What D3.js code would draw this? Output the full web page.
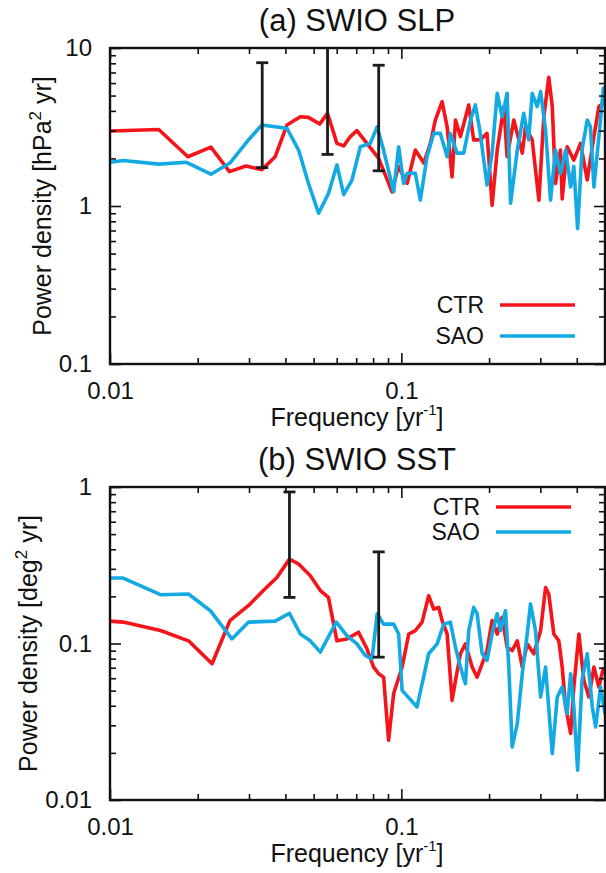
<!DOCTYPE html>
<html>
<head>
<meta charset="utf-8">
<script src="https://cdn.jsdelivr.net/npm/d3@7"></script>
<style>
body { margin: 0; background: #fff; }
text { font-family: "Liberation Sans", Arial, sans-serif; fill: #111; }
</style>
</head>
<body>
<div id="chart"></div>
<script>
// ---- data ----
const freqTicks = [0.01, 0.1];
const freqMinor = [0.02, 0.03, 0.04, 0.05, 0.06, 0.07, 0.08, 0.09, 0.2, 0.3, 0.4];
const slpTicks = [0.1, 1, 10];
const sstTicks = [0.01, 0.1, 1];

// (a) SLP, CTR
const slpCtrFreq = [0.0100, 0.0147, 0.0185, 0.0222, 0.0257, 0.0293, 0.0332, 0.0369, 0.0405, 0.0450,
  0.0480, 0.0524, 0.0558, 0.0601, 0.0634, 0.0668, 0.0704, 0.0836, 0.0929, 0.0977,
  0.1047, 0.1117, 0.1194, 0.1258, 0.1308, 0.1380, 0.1436, 0.1493, 0.1534, 0.1595,
  0.1703, 0.1771, 0.1866, 0.1968, 0.2049, 0.2133, 0.2249, 0.2307, 0.2432, 0.2600,
  0.2667, 0.2812, 0.2965, 0.3083, 0.3206, 0.3296, 0.3381, 0.3516, 0.3565, 0.3707,
  0.3908, 0.4121, 0.4345, 0.4581, 0.4764, 0.4943];
const slpCtr = [2.98, 3.05, 2.05, 2.36, 1.65, 1.79, 1.70, 2.05, 3.26, 3.67,
  3.64, 3.30, 3.86, 2.49, 2.40, 2.75, 3.00, 2.00, 1.23, 1.78,
  1.39, 2.26, 1.87, 2.49, 3.50, 4.57, 3.17, 1.53, 3.50, 2.75,
  4.36, 2.62, 2.62, 2.88, 1.01, 2.26, 4.26, 2.05, 3.50, 2.16,
  3.17, 2.62, 1.09, 3.67, 6.53, 4.26, 1.39, 2.26, 1.11, 2.37,
  1.95, 2.49, 1.46, 2.75, 4.26, 4.47];

// (a) SLP, SAO
const slpSaoFreq = [0.0100, 0.0111, 0.0147, 0.0183, 0.0222, 0.0258, 0.0295, 0.0332, 0.0369, 0.0405,
  0.0444, 0.0480, 0.0520, 0.0562, 0.0601, 0.0634, 0.0677, 0.0723, 0.0782, 0.0826,
  0.0869, 0.0941, 0.0979, 0.1018, 0.1047, 0.1117, 0.1162, 0.1225, 0.1291, 0.1361,
  0.1436, 0.1473, 0.1553, 0.1637, 0.1726, 0.1795, 0.1866, 0.1968, 0.2049, 0.2133,
  0.2218, 0.2307, 0.2371, 0.2500, 0.2630, 0.2735, 0.2812, 0.2924, 0.3006, 0.3126,
  0.3251, 0.3381, 0.3516, 0.3664, 0.3811, 0.3908, 0.4027, 0.4169, 0.4345, 0.4457,
  0.4581, 0.4764, 0.4943];
const slpSao = [1.89, 1.94, 1.84, 1.89, 1.59, 1.87, 2.55, 3.26, 3.17, 3.10,
  2.26, 1.39, 0.90, 1.20, 1.82, 1.18, 1.46, 2.37, 2.49, 3.17,
  2.26, 1.23, 2.37, 1.39, 1.61, 1.61, 1.09, 2.05, 2.88, 2.88,
  2.05, 2.88, 2.16, 2.16, 3.50, 4.36, 2.88, 1.36, 2.16, 5.17,
  3.67, 5.17, 1.04, 2.26, 3.86, 2.62, 5.17, 4.26, 5.30, 3.03,
  1.09, 2.26, 1.61, 2.26, 1.32, 1.78, 0.72, 2.26, 3.50, 3.17,
  1.32, 2.75, 5.69];

// (b) SST, CTR
const sstCtrFreq = [0.0100, 0.0111, 0.0149, 0.0186, 0.0224, 0.0258, 0.0299, 0.0336, 0.0374, 0.0413,
  0.0444, 0.0487, 0.0527, 0.0562, 0.0601, 0.0651, 0.0713, 0.0762, 0.0803, 0.0836,
  0.0869, 0.0904, 0.0941, 0.1006, 0.1060, 0.1117, 0.1178, 0.1241, 0.1291, 0.1344,
  0.1380, 0.1436, 0.1493, 0.1534, 0.1595, 0.1659, 0.1750, 0.1820, 0.1894, 0.1968,
  0.2049, 0.2133, 0.2218, 0.2307, 0.2401, 0.2500, 0.2600, 0.2704, 0.2849, 0.3006,
  0.3126, 0.3206, 0.3337, 0.3471, 0.3565, 0.3664, 0.3811, 0.3908, 0.4068, 0.4232,
  0.4402, 0.4581, 0.4764, 0.4943];
const sstCtr = [0.139, 0.137, 0.121, 0.104, 0.0743, 0.140, 0.175, 0.218, 0.264, 0.346,
  0.322, 0.271, 0.218, 0.197, 0.104, 0.107, 0.118, 0.0925, 0.0707, 0.0641,
  0.0609, 0.0241, 0.0479, 0.0707, 0.115, 0.121, 0.137, 0.202, 0.166, 0.170,
  0.140, 0.115, 0.0433, 0.058, 0.086, 0.0994, 0.0707, 0.0609, 0.0743, 0.0902,
  0.140, 0.115, 0.147, 0.0946, 0.0902, 0.104, 0.0707, 0.0994, 0.086, 0.121,
  0.228, 0.207, 0.115, 0.104, 0.0707, 0.0393, 0.0266, 0.0527, 0.115, 0.058,
  0.0455, 0.0707, 0.0527, 0.0707];

// (b) SST, SAO
const sstSaoFreq = [0.0100, 0.0111, 0.0149, 0.0186, 0.0221, 0.0262, 0.0299, 0.0369, 0.0413, 0.0450,
  0.0487, 0.0527, 0.0598, 0.0651, 0.0704, 0.0752, 0.0793, 0.0826, 0.0869, 0.0941,
  0.0979, 0.1006, 0.1132, 0.1241, 0.1327, 0.1398, 0.1473, 0.1534, 0.1595, 0.1659,
  0.1703, 0.1771, 0.1820, 0.1894, 0.1968, 0.2049, 0.2133, 0.2189, 0.2278, 0.2338,
  0.2401, 0.2500, 0.2600, 0.2704, 0.2775, 0.2887, 0.3006, 0.3126, 0.3296, 0.3428,
  0.3565, 0.3707, 0.3811, 0.3908, 0.4027, 0.4169, 0.4345, 0.4522, 0.4642, 0.4829,
  0.5000];
const sstSao = [0.262, 0.262, 0.205, 0.207, 0.162, 0.107, 0.137, 0.139, 0.156, 0.115,
  0.104, 0.0881, 0.137, 0.112, 0.0994, 0.0839, 0.0797, 0.155, 0.133, 0.133,
  0.115, 0.0502, 0.0393, 0.086, 0.0994, 0.133, 0.137, 0.0946, 0.0707, 0.0554,
  0.121, 0.170, 0.155, 0.086, 0.078, 0.115, 0.155, 0.121, 0.162, 0.0707,
  0.0218, 0.0308, 0.0641, 0.115, 0.179, 0.121, 0.0455, 0.0707, 0.0198, 0.0455,
  0.0527, 0.0356, 0.0641, 0.0393, 0.0155, 0.058, 0.086, 0.0393, 0.0293, 0.0527,
  0.0356];

// error bars
const slpErrFreq = [0.0333, 0.0558, 0.0836];
const slpErrLow = [1.75, 2.12, 1.67];
const slpErrHigh = [8.07, 10.6, 7.78];
const sstErrFreq = [0.0413, 0.0836];
const sstErrLow = [0.197, 0.0818];
const sstErrHigh = [0.93, 0.385];

const seriesNames = ["CTR", "SAO"];
const colors = ["#f5141a", "#13aae4"];

// ---- drawing ----
const width = 606, height = 873;
const svg = d3.select("#chart").append("svg")
    .attr("width", width).attr("height", height);

const x = d3.scaleLog().domain([0.01, 0.5]).range([110, 605]);

const zip = (f, v) => f.map((d, i) => ({f: d, v: v[i]}));

function minorOf(ticks) {
    let out = [];
    ticks.slice(0, -1).forEach(t => {
        for (let k = 2; k <= 9; k++) out.push(t * k);
    });
    return out;
}

function panel(p) {
    const y = d3.scaleLog().domain(p.yDomain).range([p.bottom, p.top]);
    const g = svg.append("g");
    const clipId = "clip" + p.id;

    g.append("clipPath").attr("id", clipId)
        .append("rect")
        .attr("x", x.range()[0]).attr("y", p.top)
        .attr("width", x.range()[1] - x.range()[0])
        .attr("height", p.bottom - p.top);

    const plot = g.append("g").attr("clip-path", `url(#${clipId})`);
    const line = d3.line().x(d => x(d.f)).y(d => y(d.v));

    p.series.forEach((s, i) => {
        plot.append("path")
            .datum(s)
            .attr("d", line)
            .attr("fill", "none")
            .attr("stroke", colors[i])
            .attr("stroke-width", 3.6)
            .attr("stroke-linejoin", "round");
    });

    // error bars
    const errs = p.errFreq.map((f, i) => ({f: f, lo: p.errLow[i], hi: p.errHigh[i]}));
    const eb = plot.selectAll(".eb").data(errs).enter().append("g")
        .attr("stroke", "#1c1c1c").attr("stroke-width", 2.8);
    eb.append("line")
        .attr("x1", d => x(d.f)).attr("x2", d => x(d.f))
        .attr("y1", d => y(d.lo)).attr("y2", d => y(d.hi));
    eb.append("line")
        .attr("x1", d => x(d.f) - 6).attr("x2", d => x(d.f) + 6)
        .attr("y1", d => y(d.lo)).attr("y2", d => y(d.lo));
    eb.append("line")
        .attr("x1", d => x(d.f) - 6).attr("x2", d => x(d.f) + 6)
        .attr("y1", d => y(d.hi)).attr("y2", d => y(d.hi));

    // axes, ticks pointing inward on all four sides
    const fmt = d3.format("~g");
    const axes = [
        [d3.axisBottom(x), p.bottom, 0, freqTicks, freqMinor, true],
        [d3.axisTop(x), p.top, 0, freqTicks, freqMinor, false],
        [d3.axisLeft(y), 0, x.range()[0], p.yTicks, minorOf(p.yTicks), true],
        [d3.axisRight(y), 0, x.range()[1], p.yTicks, minorOf(p.yTicks), false]
    ];
    axes.forEach(([ax, ty, tx, major, minor, labels]) => {
        const a1 = g.append("g").attr("transform", `translate(${tx},${ty})`)
            .call(ax.tickValues(major).tickSize(-11).tickPadding(18)
                .tickFormat(labels ? fmt : ""));
        const a2 = g.append("g").attr("transform", `translate(${tx},${ty})`)
            .call(ax.tickValues(minor).tickSize(-6).tickFormat(""));
        [a1, a2].forEach(a => {
            a.select(".domain").remove();
            a.selectAll("line").attr("stroke", "#111").attr("stroke-width", 1.6);
            a.selectAll("text").attr("font-size", 24)
                .attr("font-family", "Liberation Sans, Arial, sans-serif").attr("fill", "#111");
        });
    });

    g.append("rect")
        .attr("x", x.range()[0]).attr("y", p.top)
        .attr("width", x.range()[1] - x.range()[0])
        .attr("height", p.bottom - p.top)
        .attr("fill", "none").attr("stroke", "#111").attr("stroke-width", 2.4);

    // title
    g.append("text")
        .attr("x", 357).attr("y", p.top - 17)
        .attr("text-anchor", "middle").attr("font-size", 31)
        .text(p.title);

    // x label
    const xl = g.append("text")
        .attr("x", 357).attr("y", p.bottom + 62)
        .attr("text-anchor", "middle").attr("font-size", 25);
    xl.append("tspan").text("Frequency [yr");
    xl.append("tspan").attr("font-size", 15).attr("dy", -11).text("-1");
    xl.append("tspan").attr("dy", 11).text("]");

    // y label
    const yl = g.append("text")
        .attr("transform", `translate(${p.ylx},${(p.top + p.bottom) / 2}) rotate(-90)`)
        .attr("text-anchor", "middle").attr("font-size", 25);
    yl.append("tspan").text(`Power density [${p.unit}`);
    yl.append("tspan").attr("font-size", 17).attr("dy", -10).text("2");
    yl.append("tspan").attr("dy", 10).text(" yr]");

    // legend
    seriesNames.forEach((name, i) => {
        const ly = p.legY + i * p.legGap;
        g.append("text")
            .attr("x", p.legX).attr("y", ly)
            .attr("text-anchor", "end").attr("font-size", 23)
            .text(name);
        g.append("line")
            .attr("x1", p.legX + 16).attr("x2", p.legX + 91)
            .attr("y1", ly - 8).attr("y2", ly - 8)
            .attr("stroke", colors[i]).attr("stroke-width", 3.6);
    });
}

panel({
    id: "a", title: "(a) SWIO SLP", unit: "hPa",
    top: 48, bottom: 364, yDomain: [0.1, 10], yTicks: slpTicks, ylx: 51,
    series: [zip(slpCtrFreq, slpCtr), zip(slpSaoFreq, slpSao)],
    errFreq: slpErrFreq, errLow: slpErrLow, errHigh: slpErrHigh,
    legX: 484, legY: 313, legGap: 31
});

panel({
    id: "b", title: "(b) SWIO SST", unit: "deg",
    top: 487, bottom: 800, yDomain: [0.01, 1], yTicks: sstTicks, ylx: 37,
    series: [zip(sstCtrFreq, sstCtr), zip(sstSaoFreq, sstSao)],
    errFreq: sstErrFreq, errLow: sstErrLow, errHigh: sstErrHigh,
    legX: 480, legY: 515, legGap: 25
});
</script>
</body>
</html>
